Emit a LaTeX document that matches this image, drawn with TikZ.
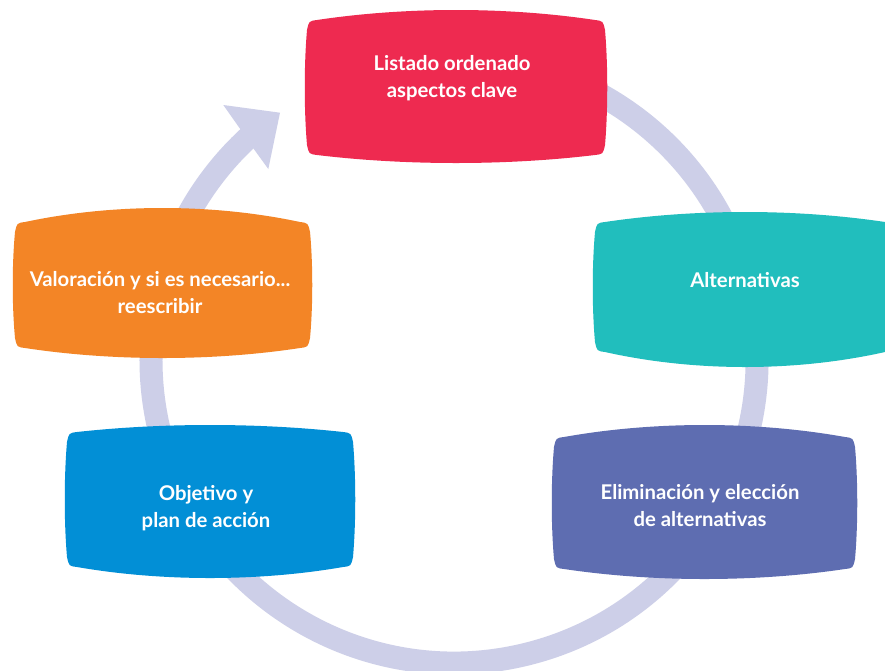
\documentclass[tikz,border=0pt]{standalone}
\usepackage{fontspec}
\setmainfont{Lato}
\definecolor{cred}{HTML}{EE2A50}
\definecolor{cteal}{HTML}{21BEBD}
\definecolor{cpurple}{HTML}{5E6DB1}
\definecolor{cblue}{HTML}{028FD6}
\definecolor{corange}{HTML}{F38526}
\definecolor{cband}{HTML}{CDCFE8}
% #1 L, #2 R, #3 top corner y, #4 bottom corner y, #5 top peak y, #6 bottom peak y, #7 colour
\newcommand\blobbox[7]{%
\fill[#7] ({#1+12},#3)
 .. controls ({#1+(#2-#1)/3},{#3-4/3*(#3-#5)}) and ({#2-(#2-#1)/3},{#3-4/3*(#3-#5)}) .. ({#2-12},#3)
 .. controls ({#2-4},{#3+1}) .. ({#2-2},{#3+10})
 .. controls ({#2+1},{#3+(#4-#3)/3}) and ({#2+1},{#4-(#4-#3)/3}) .. ({#2-2},{#4-10})
 .. controls ({#2-4},{#4-1}) .. ({#2-12},#4)
 .. controls ({#2-(#2-#1)/3},{#4+4/3*(#6-#4)}) and ({#1+(#2-#1)/3},{#4+4/3*(#6-#4)}) .. ({#1+12},#4)
 .. controls ({#1+4},{#4-1}) .. ({#1+2},{#4-10})
 .. controls ({#1-1},{#4-(#4-#3)/3}) and ({#1-1},{#3+(#4-#3)/3}) .. ({#1+2},{#3+10})
 .. controls ({#1+4},{#3+1}) .. cycle;}
\begin{document}
\begin{tikzpicture}[x=1pt,y=-1pt,
  label/.style={text=white,align=center,inner sep=0pt,
    font=\fontsize{20.3}{27}\selectfont\bfseries}]
\useasboundingbox[fill=white] (0,0) rectangle (885,670);
\coordinate (C) at (454,360);
% ring
\draw[cband,line width=23pt] ([shift={(105:303pt)}]C) arc[start angle=105,end angle=-228,radius=303pt];
\coordinate (w1) at (223.3,105);
\coordinate (tip) at (280,112.7);
\coordinate (w2) at (268.3,169);
\coordinate (i2) at (253.3,148.3);
\coordinate (i1) at (239.3,127.7);
\fill[cband] (w1) -- (tip) -- (w2) -- (i2) -- (i1) -- cycle;
% boxes
\blobbox{305}{607}{20}{155}{10}{163}{cred}
\blobbox{593}{897}{222}{352}{212}{367}{cteal}
\blobbox{13}{312}{222}{348}{208}{358}{corange}
\blobbox{65}{355}{432}{567}{425}{578}{cblue}
\blobbox{552}{857}{437}{569}{425}{579}{cpurple}
% texts
\node[label] (t1) at (452,78.5) {Listado ordenado\\aspectos clave};
\node[label] (t2) at (745,280) {Alternativas};
\node[label] (t3) at (160,292.5) {Valoración y si es necesario...\\reescribir};
\node[label] (t4) at (206,508.5) {Objetivo y\\plan de acción};
\node[label] (t5) at (700,505.5) {Eliminación y elección\\de alternativas};
\end{tikzpicture}
\end{document}
